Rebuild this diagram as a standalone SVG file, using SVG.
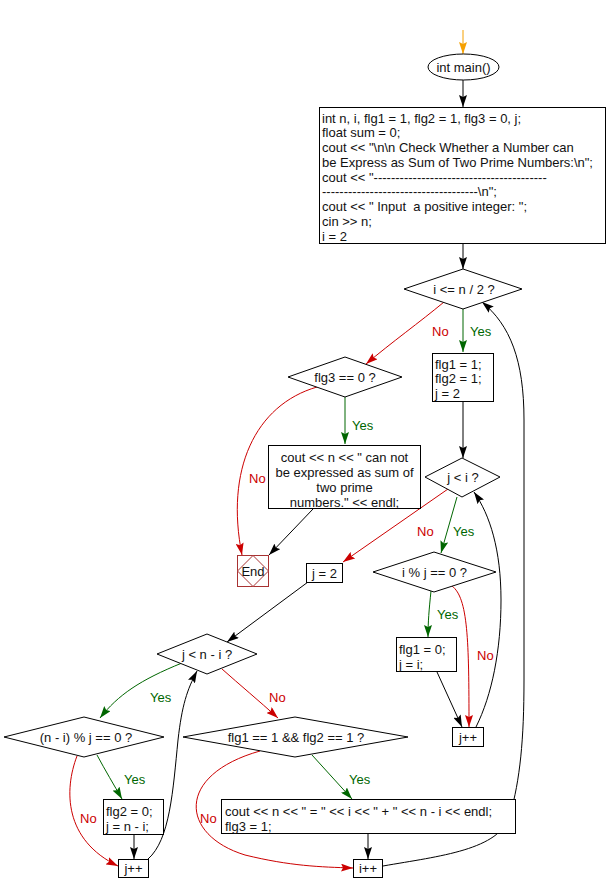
<svg xmlns="http://www.w3.org/2000/svg" width="609" height="894" viewBox="0 0 609 894">
<style>
text{font-family:"Liberation Sans",Arial,sans-serif;font-size:13px;fill:#111;white-space:pre}
.c{text-anchor:middle}
.shape{fill:#fff;stroke:#000;stroke-width:1}
.end{fill:#fff;stroke:#A83232;stroke-width:1}
.k{fill:none;stroke:#000;stroke-width:1;marker-end:url(#ak)}
.r{fill:none;stroke:#CC0000;stroke-width:1;marker-end:url(#ar)}
.g{fill:none;stroke:#006600;stroke-width:1;marker-end:url(#ag)}
.o{fill:none;stroke:#F5A000;stroke-width:1;marker-end:url(#ao)}
.ly{fill:#006600}
.ln{fill:#CC0000}
</style>
<defs>
<marker id="ak" markerUnits="userSpaceOnUse" markerWidth="12" markerHeight="8" refX="12" refY="4" orient="auto"><path d="M0,0 L12,4 L0,8 L2,4 z" fill="#000"/></marker>
<marker id="ar" markerUnits="userSpaceOnUse" markerWidth="12" markerHeight="8" refX="12" refY="4" orient="auto"><path d="M0,0 L12,4 L0,8 L2,4 z" fill="#CC0000"/></marker>
<marker id="ag" markerUnits="userSpaceOnUse" markerWidth="12" markerHeight="8" refX="12" refY="4" orient="auto"><path d="M0,0 L12,4 L0,8 L2,4 z" fill="#006600"/></marker>
<marker id="ao" markerUnits="userSpaceOnUse" markerWidth="12" markerHeight="8" refX="12" refY="4" orient="auto"><path d="M0,0 L12,4 L0,8 L2,4 z" fill="#F5A000"/></marker>
</defs>

<g id="connectors">
<path class="o" d="M463,30 L463,54"/>
<path class="k" d="M463,80 L463,107"/>
<path class="k" d="M463,244 L463,269"/>
<path class="g" d="M463,309 L463,352"/>
<path class="r" d="M444,302 C420,322 392,342 366,364"/>
<path class="g" d="M345,397 L345,444"/>
<path class="r" d="M317,387 C255,405 225,470 242,555"/>
<path class="k" d="M313,509 L269,555"/>
<path class="k" d="M463,402 L463,458"/>
<path class="r" d="M448,489 L343,562"/>
<path class="g" d="M457,497 L441,553"/>
<path class="g" d="M431,591 C429,610 428,622 428,637"/>
<path class="r" d="M452,586 C468,598 469,640 469,727"/>
<path class="k" d="M437,672 L462,727"/>
<path class="k" d="M476,727 C492,695 501,650 501,600 C501,550 490,515 474,492"/>
<path class="k" d="M308,582 L227,642"/>
<path class="g" d="M182,663 C140,680 118,695 100,718"/>
<path class="r" d="M222,669 C240,685 258,700 278,718"/>
<path class="g" d="M97,755 C105,770 114,785 122,799"/>
<path class="r" d="M77,756 C64,790 64,840 118,866"/>
<path class="k" d="M134,835 L134,859"/>
<path class="k" d="M148,859 C170,840 173,790 178,740 C182,705 187,690 197,671"/>
<path class="g" d="M312,755 L352,799"/>
<path class="r" d="M260,751 C175,775 180,835 245,855 C290,866 320,867 353,868"/>
<path class="k" d="M368,834 L368,859"/>
<path class="k" d="M383,866 C440,856 500,850 510,815 C520,780 524,740 524,680 L524,420 C524,360 510,325 482,302"/>
<text class="ln" x="432" y="335.5">No</text>
<text class="ly" x="470" y="335.5">Yes</text>
<text class="ly" x="352" y="429.5">Yes</text>
<text class="ln" x="249" y="482.5">No</text>
<text class="ln" x="417" y="535.5">No</text>
<text class="ly" x="453" y="535.5">Yes</text>
<text class="ly" x="437" y="618.5">Yes</text>
<text class="ln" x="477" y="659.5">No</text>
<text class="ly" x="150" y="701.5">Yes</text>
<text class="ln" x="269" y="701.5">No</text>
<text class="ly" x="124" y="783.5">Yes</text>
<text class="ln" x="80" y="822.5">No</text>
<text class="ly" x="349" y="783.5">Yes</text>
<text class="ln" x="200" y="822.5">No</text>
</g>

<g id="start">
<ellipse class="shape" cx="463.5" cy="67" rx="35.5" ry="13"/>
<text class="c" x="463.5" y="71.5">int main()</text>
</g>

<g id="init">
<rect class="shape" x="319.5" y="107.5" width="286" height="136"/>
<text x="322" y="122.5">int n, i, flg1 = 1, flg2 = 1, flg3 = 0, j;</text>
<text x="322" y="137.2">float sum = 0;</text>
<text x="322" y="152">cout &lt;&lt; "\n\n Check Whether a Number can</text>
<text x="322" y="166.7">be Express as Sum of Two Prime Numbers:\n";</text>
<text x="322" y="181.5">cout &lt;&lt; "----------------------------------------</text>
<text x="322" y="196.2">------------------------------------\n";</text>
<text x="322" y="211">cout &lt;&lt; " Input  a positive integer: ";</text>
<text x="322" y="225.7">cin &gt;&gt; n;</text>
<text x="322" y="240.5">i = 2</text>
</g>

<g id="cond_i">
<polygon class="shape" points="463,269 522,289 463,309 404,289"/>
<text class="c" x="464" y="293.5">i &lt;= n / 2 ?</text>
</g>

<g id="set_flags">
<rect class="shape" x="432.5" y="353.5" width="61" height="48"/>
<text x="435" y="368.5">flg1 = 1;</text>
<text x="435" y="383">flg2 = 1;</text>
<text x="435" y="397.5">j = 2</text>
</g>

<g id="cond_flg3">
<polygon class="shape" points="345,357 402,377 345,397 288,377"/>
<text class="c" x="345" y="381.5">flg3 == 0 ?</text>
</g>

<g id="print_not">
<rect class="shape" x="268.5" y="445.5" width="152" height="63"/>
<text class="c" x="344.5" y="461.5">cout &lt;&lt; n &lt;&lt; " can not</text>
<text class="c" x="344.5" y="476.5">be expressed as sum of</text>
<text class="c" x="344.5" y="491.5">two prime</text>
<text class="c" x="344.5" y="506.5">numbers." &lt;&lt; endl;</text>
</g>

<g id="end">
<rect class="end" x="237.5" y="555.5" width="31" height="31"/>
<polygon class="end" points="253,555.5 268.5,571 253,586.5 237.5,571" fill="none"/>
<text class="c" x="253" y="576">End</text>
</g>

<g id="cond_j_i">
<polygon class="shape" points="462,458 500,477 462,497 425,477"/>
<text class="c" x="463" y="481.5">j &lt; i ?</text>
</g>

<g id="set_j2">
<rect class="shape" x="306.5" y="563.5" width="36" height="19"/>
<text class="c" x="324.5" y="577.5">j = 2</text>
</g>

<g id="cond_mod_i">
<polygon class="shape" points="434,552 496,572 434,592 373,572"/>
<text class="c" x="434.5" y="576.5">i % j == 0 ?</text>
</g>

<g id="set_flg1">
<rect class="shape" x="396.5" y="637.5" width="60" height="34"/>
<text x="399" y="654">flg1 = 0;</text>
<text x="399" y="668.5">j = i;</text>
</g>

<g id="inc_j_right">
<rect class="shape" x="452.5" y="727.5" width="31" height="19"/>
<text class="c" x="468" y="741.5">j++</text>
</g>

<g id="cond_j_ni">
<polygon class="shape" points="207,634 257,654 207,674 157,654"/>
<text class="c" x="207" y="658.5">j &lt; n - i ?</text>
</g>

<g id="cond_mod_ni">
<polygon class="shape" points="84,717 164,737 84,757 4,737"/>
<text class="c" x="86" y="741.5">(n - i) % j == 0 ?</text>
</g>

<g id="cond_both">
<polygon class="shape" points="295,717 408,737 295,757 183,737"/>
<text class="c" x="296" y="741.5">flg1 == 1 &amp;&amp; flg2 == 1 ?</text>
</g>

<g id="set_flg2">
<rect class="shape" x="103.5" y="799.5" width="60" height="35"/>
<text x="106" y="816">flg2 = 0;</text>
<text x="106" y="830.5">j = n - i;</text>
</g>

<g id="inc_j_left">
<rect class="shape" x="118.5" y="859.5" width="30" height="18"/>
<text class="c" x="133.5" y="873">j++</text>
</g>

<g id="print_sum">
<rect class="shape" x="221.5" y="799.5" width="294" height="34"/>
<text x="225" y="816">cout &lt;&lt; n &lt;&lt; " = " &lt;&lt; i &lt;&lt; " + " &lt;&lt; n - i &lt;&lt; endl;</text>
<text x="225" y="830.5">flg3 = 1;</text>
</g>

<g id="inc_i">
<rect class="shape" x="353.5" y="859.5" width="29" height="18"/>
<text class="c" x="368" y="873">i++</text>
</g>
</svg>
